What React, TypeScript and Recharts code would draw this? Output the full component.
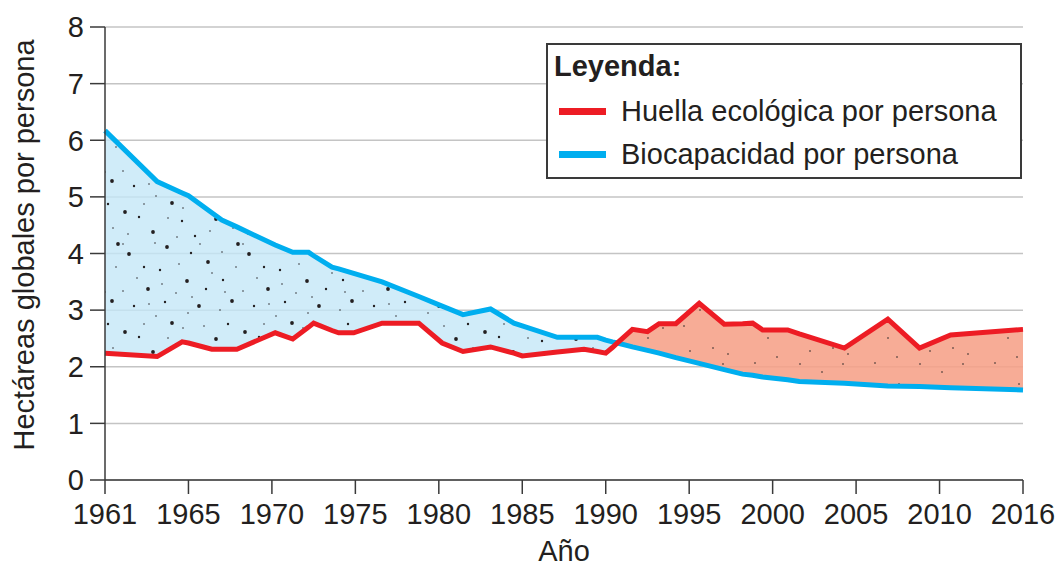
import React from "react";
import {
  ComposedChart,
  Area,
  Line,
  XAxis,
  YAxis,
  CartesianGrid,
  Legend,
} from "recharts";

const tickLabels = ["1961", "1965", "1970", "1975", "1980", "1985", "1990", "1995", "2000", "2005", "2010", "2016"];
const yTicks = [0, 1, 2, 3, 4, 5, 6, 7, 8];

const years = [
  1961, 1963.5, 1964.7, 1965, 1966.4, 1967, 1967.9, 1970.2, 1971.25, 1972.2, 1972.5, 1973.6, 1974, 1974.9,
  1976.6, 1978.8, 1980.2, 1981.45, 1983.1, 1984.5, 1985, 1987.1, 1988.7, 1989.5, 1990, 1990.4, 1990.7,
  1991.6, 1992.5, 1993.2, 1994.2, 1995.6, 1997.1, 1998.2, 1998.8, 1999.4, 2000.9, 2001.6, 2004.3, 2006.9,
  2008.8, 2010.8, 2016,
];
const huella = [
  2.24, 2.18, 2.44, 2.42, 2.31, 2.31, 2.31, 2.6, 2.49, 2.7, 2.77, 2.64, 2.6, 2.6, 2.77, 2.77, 2.42, 2.27,
  2.35, 2.24, 2.19, 2.26, 2.31, 2.27, 2.24, 2.34, 2.42, 2.66, 2.62, 2.76, 2.76, 3.12, 2.75, 2.76, 2.77,
  2.65, 2.65, 2.58, 2.33, 2.84, 2.33, 2.56, 2.66,
];
const biocapacidad = [
  6.17, 5.27, 5.07, 5.02, 4.72, 4.59, 4.47, 4.15, 4.02, 4.02, 3.96, 3.76, 3.73, 3.65, 3.5, 3.24, 3.07, 2.92,
  3.02, 2.77, 2.72, 2.52, 2.52, 2.52, 2.47, 2.44, 2.42, 2.35, 2.29, 2.24, 2.16, 2.06, 1.95, 1.87, 1.85,
  1.82, 1.77, 1.74, 1.71, 1.66, 1.65, 1.63, 1.59,
];
// year where the two lines cross
const cruce = 1990.7;

const RED = "#ed1c24";
const BLUE = "#00aeef";
const TEXT = "#231f20";
const FONT = "'Liberation Sans', Arial, sans-serif";
const FS = 29;

// ticks are evenly spaced even though the year gaps are not
const tickYears = tickLabels.map(Number);
function yearToPos(year: number) {
  for (let i = 0; i < tickYears.length - 1; i++) {
    if (year <= tickYears[i + 1]) {
      return i + (year - tickYears[i]) / (tickYears[i + 1] - tickYears[i]);
    }
  }
  return tickYears.length - 1;
}

const data = years.map((year, i) => ({
  pos: yearToPos(year),
  huella: huella[i],
  bio: biocapacidad[i],
  superavit: year <= cruce ? [huella[i], biocapacidad[i]] : undefined,
  deficit: year >= cruce ? [biocapacidad[i], huella[i]] : undefined,
}));

// stipple texture (decoration only)
const bigDots = [
  [9, 14], [47, 7], [88, 22], [112, 61], [28, 49], [67, 41], [5, 92], [52, 83], [96, 99], [79, 66],
  [33, 112], [118, 4],
];
const midDots = [
  [24, 27], [71, 13], [103, 40], [14, 66], [45, 62], [86, 49], [62, 101], [19, 97], [108, 84], [40, 30],
  [75, 116],
];
const smallDots = [
  [3, 4], [35, 3], [59, 24], [80, 4], [102, 12], [17, 38], [56, 53], [92, 33], [116, 27], [3, 51],
  [36, 76], [68, 73], [100, 70], [24, 84], [84, 86], [113, 108], [48, 98], [8, 114], [57, 117], [90, 111],
  [72, 57], [42, 44], [29, 64], [105, 52], [63, 88],
];

function LegendBox({ payload }: { payload?: { value: string; color: string }[] }) {
  const order = ["Huella ecológica por persona", "Biocapacidad por persona"];
  const items = (payload ?? [])
    .filter((p) => order.includes(p.value))
    .sort((a, b) => order.indexOf(a.value) - order.indexOf(b.value));
  return (
    <div
      style={{
        width: 472,
        height: 132,
        border: "2px solid #3a3a3a",
        background: "#fff",
        fontFamily: FONT,
        color: TEXT,
        boxSizing: "content-box",
        position: "relative",
      }}
    >
      <div style={{ position: "absolute", left: 6, top: 5, fontSize: FS, fontWeight: 700 }}>Leyenda:</div>
      {items.map((p, i) => (
        <div key={p.value} style={{ position: "absolute", left: 11, top: 49 + i * 43, display: "flex", alignItems: "center" }}>
          <span style={{ display: "inline-block", width: 47, height: 7, background: p.color }} />
          <span style={{ fontSize: FS, marginLeft: 15, lineHeight: "34px" }}>{p.value}</span>
        </div>
      ))}
    </div>
  );
}

export default function App() {
  return (
    <div style={{ position: "absolute", left: 0, top: 0, background: "#fff" }}>
      <ComposedChart width={1057} height={568} data={data} margin={{ top: 27, right: 34, left: 0, bottom: 0 }}>
        <defs>
          <pattern id="dotsBlue" width={120} height={120} patternUnits="userSpaceOnUse">
            <rect width={120} height={120} fill="#c4e7f8" fillOpacity={0.8} />
            {bigDots.map(([x, y], i) => (
              <circle key={"b" + i} cx={x} cy={y} r={1.9} fill={TEXT} />
            ))}
            {midDots.map(([x, y], i) => (
              <circle key={"m" + i} cx={x} cy={y} r={1.2} fill={TEXT} />
            ))}
            {smallDots.map(([x, y], i) => (
              <circle key={"s" + i} cx={x} cy={y} r={0.75} fill={TEXT} />
            ))}
          </pattern>
          <pattern id="dotsRed" width={120} height={120} patternUnits="userSpaceOnUse">
            <rect width={120} height={120} fill="#f6a087" fillOpacity={0.88} />
            {smallDots.map(([x, y], i) => (
              <circle key={"s" + i} cx={x} cy={y} r={0.8} fill={TEXT} />
            ))}
          </pattern>
        </defs>
        <CartesianGrid vertical={false} stroke="#c4c4c4" strokeWidth={1.5} />
        <XAxis
          type="number"
          dataKey="pos"
          domain={[0, tickLabels.length - 1]}
          ticks={tickLabels.map((_, i) => i)}
          tickFormatter={(v: number) => tickLabels[v]}
          interval={0}
          height={88}
          tickSize={14}
          tickMargin={9}
          axisLine={{ stroke: "#3a3a3a", strokeWidth: 1.5 }}
          tickLine={{ stroke: "#3a3a3a", strokeWidth: 1.5 }}
          tick={{ fontSize: FS, fill: TEXT, fontFamily: FONT }}
          label={{
            content: () => (
              <text x={564} y={561} textAnchor="middle" fontSize={FS} fill={TEXT} fontFamily={FONT}>
                Año
              </text>
            ),
          }}
        />
        <YAxis
          domain={[0, 8]}
          ticks={yTicks}
          interval={0}
          width={105}
          tickSize={15}
          tickMargin={6}
          axisLine={{ stroke: "#3a3a3a", strokeWidth: 1.5 }}
          tickLine={{ stroke: "#3a3a3a", strokeWidth: 1.5 }}
          tick={{ fontSize: FS, fill: TEXT, fontFamily: FONT }}
          label={{
            content: () => (
              <text
                x={34}
                y={245}
                transform="rotate(-90, 34, 245)"
                textAnchor="middle"
                fontSize={FS}
                fill={TEXT}
                fontFamily={FONT}
              >
                Hectáreas globales por persona
              </text>
            ),
          }}
        />
        <Area
          dataKey="superavit"
          type="linear"
          stroke="none"
          fill="url(#dotsBlue)"
          fillOpacity={1}
          isAnimationActive={false}
          legendType="none"
          activeDot={false}
        />
        <Area
          dataKey="deficit"
          type="linear"
          stroke="none"
          fill="url(#dotsRed)"
          fillOpacity={1}
          isAnimationActive={false}
          legendType="none"
          activeDot={false}
        />
        <Line
          dataKey="bio"
          name="Biocapacidad por persona"
          type="linear"
          stroke={BLUE}
          strokeWidth={5}
          dot={false}
          activeDot={false}
          isAnimationActive={false}
        />
        <Line
          dataKey="huella"
          name="Huella ecológica por persona"
          type="linear"
          stroke={RED}
          strokeWidth={5}
          dot={false}
          activeDot={false}
          isAnimationActive={false}
        />
        <Legend
          layout="vertical"
          align="center"
          verticalAlign="middle"
          wrapperStyle={{ position: "absolute", left: 546, top: 43, width: 476, height: 136 }}
          content={(props: any) => <LegendBox payload={props.payload} />}
        />
      </ComposedChart>
    </div>
  );
}
